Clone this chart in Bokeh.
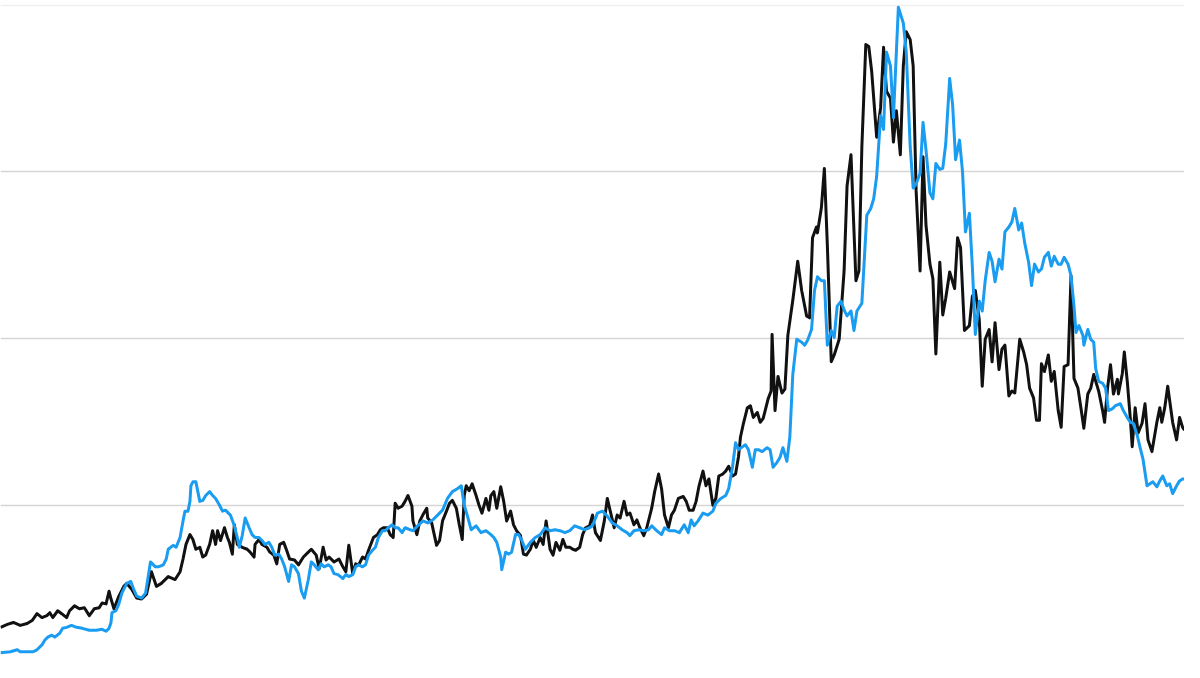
from bokeh.plotting import figure
from bokeh.models import Range1d, FixedTicker, Grid
from bokeh.embed import file_html
from bokeh.resources import INLINE

# (time index, value) readings for the black series
black_points = [
    (0, 36), (7, 39), (13, 41), (20, 38), (27, 40), (32, 43), (37, 50), (42, 46), (47, 48), (50, 51),
    (53, 46), (58, 53), (62, 50), (67, 46), (70, 53), (75, 58), (80, 55), (85, 56), (90, 48), (95, 55),
    (100, 56), (103, 61), (107, 60), (110, 73), (112, 65), (115, 55), (120, 68), (125, 78), (128, 81), (133, 75),
    (138, 66), (143, 65), (148, 70), (153, 93), (158, 78), (163, 81), (170, 88), (177, 85), (182, 93),
    (185, 106), (188, 121), (192, 131), (195, 126), (198, 116), (202, 118), (205, 108), (208, 110), (212, 121),
    (215, 135), (218, 121), (220, 135), (223, 125), (227, 138), (230, 128), (232, 123), (235, 111), (237, 141),
    (240, 121), (245, 118), (250, 116), (253, 113), (257, 108), (258, 121),
    (262, 126), (265, 121), (270, 118), (273, 113), (277, 110), (280, 101), (283, 121), (287, 123), (290, 115),
    (293, 106), (298, 105), (302, 100), (307, 108), (312, 113), (315, 116), (320, 110), (323, 96), (327, 118),
    (330, 105), (333, 108), (338, 103), (343, 106), (347, 98), (350, 93), (353, 120), (357, 91), (360, 101),
    (363, 100), (367, 108), (370, 106), (373, 115), (378, 128), (382, 131), (385, 136), (388, 138), (392, 138),
    (395, 131), (398, 128),
    (400, 163), (403, 158), (407, 160), (410, 165), (413, 171), (417, 160), (418, 145), (422, 131), (425, 145),
    (428, 151), (432, 158), (433, 148), (437, 143), (442, 120), (445, 125), (448, 145), (452, 155), (455, 163),
    (458, 166), (462, 158), (465, 141), (468, 126), (470, 171), (472, 181), (475, 176), (478, 183), (482, 171),
    (485, 161), (488, 153), (492, 168), (495, 156), (497, 171), (500, 175), (503, 158), (507, 180), (510, 165),
    (513, 145), (517, 155), (520, 141), (523, 135), (527, 130), (530, 111), (533, 110), (537, 116), (540, 125),
    (543, 118), (547, 128), (550, 121), (553, 145), (557, 116), (560, 110), (563, 123), (567, 115), (570, 126),
    (573, 118), (577, 118), (580, 116), (583, 115), (587, 118), (590, 131), (593, 138), (597, 140), (600, 151),
    (603, 133), (608, 125), (612, 145), (615, 168), (618, 155), (622, 138), (625, 151), (628, 148), (632, 165),
    (635, 151), (638, 153), (642, 141), (645, 146), (648, 138), (652, 130), (655, 138), (660, 158), (663, 175),
    (667, 193), (670, 178), (673, 151), (677, 138), (680, 151), (683, 156), (687, 168), (692, 170), (695, 165),
    (698, 156), (702, 156), (705, 165), (708, 181), (712, 196), (715, 181), (718, 188), (722, 161), (725, 168),
    (728, 191), (732, 193), (735, 196), (738, 201), (742, 191), (745, 193), (748, 211), (750, 231), (753, 245),
    (757, 261), (760, 263), (763, 251), (767, 256), (770, 246), (773, 250), (775, 258), (778, 270), (781, 278),
    (782, 336), (785, 258), (788, 293), (792, 276), (795, 280), (798, 335),
    (803, 371), (808, 411), (812, 381), (817, 355), (820, 353), (823, 435), (827, 446), (828, 440), (832, 466),
    (835, 506), (838, 428), (842, 308), (845, 315), (850, 331), (855, 401), (858, 488), (862, 520), (864, 468),
    (867, 391), (870, 401), (873, 528), (877, 633), (880, 631), (883, 605), (888, 538), (892, 568), (895, 630),
    (898, 585), (902, 578), (905, 533), (908, 565), (912, 520), (915, 611), (918, 646), (922, 638), (925, 611),
    (928, 483), (932, 401), (935, 518), (938, 448), (942, 408), (945, 393), (948, 316), (952, 410), (955, 356),
    (958, 373), (962, 400), (967, 383), (970, 435), (973, 425), (977, 340), (982, 345), (985, 375), (988, 381),
    (992, 351), (995, 283), (998, 331), (1002, 341), (1005, 308), (1008, 348), (1012, 300), (1015, 321),
    (1018, 325), (1022, 273), (1025, 278), (1028, 276), (1033, 331), (1037, 318), (1040, 305), (1043, 281),
    (1047, 271), (1050, 248), (1053, 248), (1055, 306), (1058, 298), (1062, 315), (1065, 288), (1068, 298),
    (1072, 258), (1075, 241), (1078, 303), (1082, 305), (1085, 396), (1088, 291), (1092, 281), (1095, 261),
    (1098, 240), (1102, 275), (1105, 281), (1108, 295), (1113, 278), (1117, 258), (1119, 246), (1122, 281),
    (1125, 305), (1128, 275), (1132, 290), (1133, 275), (1137, 296), (1139, 318), (1142, 288), (1145, 251),
    (1147, 221), (1150, 261), (1153, 235), (1157, 245), (1160, 265), (1163, 228), (1167, 216), (1172, 246),
    (1175, 261), (1177, 246), (1180, 261), (1183, 283), (1185, 268), (1188, 246), (1192, 228), (1195, 251),
    (1198, 241), (1200, 238),
]

# (time index, value) readings for the blue series
blue_points = [
    (0, 10), (10, 11), (17, 13), (20, 11), (27, 11), (33, 11), (37, 13), (42, 18), (45, 23), (48, 26),
    (52, 28), (55, 26), (60, 30), (63, 35), (67, 36), (72, 38), (77, 36), (83, 35), (90, 33), (97, 33),
    (103, 34), (107, 32), (110, 35), (112, 41), (113, 51), (117, 53), (120, 60), (123, 71), (128, 81), (132, 83),
    (135, 75), (138, 68), (143, 66), (147, 71), (150, 90), (152, 103), (157, 98), (160, 98), (165, 100), (168, 106),
    (170, 116), (175, 120), (178, 118), (182, 128), (185, 145), (187, 155), (190, 155), (192, 165), (193, 181),
    (195, 185), (198, 185), (202, 165), (205, 166), (208, 171), (212, 175), (215, 171), (218, 168), (222, 161),
    (225, 155), (228, 156), (233, 151), (237, 140), (240, 128),
    (242, 118), (245, 130), (248, 148), (252, 138), (255, 131), (258, 128), (262, 128), (265, 125), (268, 121),
    (272, 123), (275, 118), (278, 110), (282, 111), (285, 106), (288, 98), (292, 83), (295, 100), (298, 98),
    (302, 91), (305, 73), (308, 66), (312, 85), (315, 103), (318, 100), (322, 95), (325, 101), (328, 98),
    (332, 100), (335, 98), (338, 91), (342, 90), (347, 86), (350, 90), (353, 88), (357, 90), (360, 98),
    (363, 100), (367, 98), (370, 100), (373, 110), (377, 115), (380, 118), (383, 128), (387, 135), (390, 135),
    (393, 138), (397, 141), (400, 138), (403, 138), (407, 133), (410, 138), (415, 136), (418, 135), (423, 140),
    (428, 145), (433, 143), (438, 146), (443, 151), (448, 156), (453, 168), (458, 175), (463, 178), (467, 181),
    (470, 161), (473, 151), (477, 136), (482, 140), (487, 133), (492, 135), (497, 131), (500, 128), (503, 123),
    (507, 108), (508, 95), (512, 113), (515, 111), (518, 113), (522, 131), (525, 131), (528, 126), (532, 116),
    (537, 123), (542, 128), (547, 131), (552, 138), (557, 135), (562, 136), (567, 135), (572, 133), (577, 135),
    (582, 140), (587, 138), (592, 136), (597, 138), (600, 140), (605, 153), (610, 155), (615, 150), (620, 143),
    (625, 140), (630, 136), (635, 133), (638, 130), (642, 135), (647, 136), (652, 135), (657, 136), (660, 140),
    (665, 135), (670, 131), (673, 138), (678, 135), (683, 135), (688, 133), (693, 141), (697, 133), (700, 146),
    (703, 140), (707, 145), (712, 153), (717, 151), (722, 155), (725, 163), (730, 168), (735, 171), (738, 178),
    (742, 201), (745, 225), (748, 218), (752, 221), (755, 223), (758, 218), (762, 200), (765, 218), (768, 218),
    (772, 216), (777, 220), (780, 218), (783, 200), (787, 205), (790, 210), (793, 220), (797, 206), (800, 231),
    (803, 295), (807, 331), (812, 328), (815, 325), (818, 330), (822, 341), (825, 381), (828, 395), (832, 391),
    (835, 391), (838, 325), (842, 340), (845, 333), (848, 365), (852, 370), (855, 361), (858, 355),
    (862, 360), (865, 340), (868, 360), (873, 368), (878, 458), (882, 465), (885, 475), (888, 498), (892, 560),
    (895, 546), (898, 625), (902, 611), (905, 558), (910, 671), (915, 655), (918, 625), (922, 528), (925, 486),
    (928, 490), (932, 501), (935, 553), (938, 525), (942, 481), (945, 475), (948, 511), (952, 505), (955, 506),
    (958, 531), (962, 598), (965, 571), (968, 515), (972, 535), (975, 503), (978, 441), (982, 460), (985, 405),
    (988, 336), (992, 370), (995, 360), (998, 391), (1002, 420), (1005, 411), (1008, 390), (1012, 413),
    (1015, 403), (1018, 441), (1022, 446), (1025, 451), (1028, 465), (1032, 443), (1035, 450), (1038, 430),
    (1042, 410), (1045, 386), (1048, 408), (1052, 400), (1055, 403), (1058, 415), (1062, 420), (1065, 406),
    (1068, 416), (1072, 408), (1075, 408), (1078, 415), (1082, 408), (1085, 396), (1088, 365), (1090, 338),
    (1093, 345), (1097, 335), (1098, 325), (1102, 341), (1105, 331), (1108, 328), (1110, 301), (1113, 288),
    (1117, 286), (1120, 281), (1123, 258), (1127, 260), (1130, 263), (1135, 265), (1138, 258), (1142, 251),
    (1145, 246), (1148, 245), (1152, 233), (1155, 220), (1158, 208), (1162, 181), (1165, 183), (1168, 185),
    (1172, 180), (1175, 186), (1178, 191), (1182, 181), (1185, 183), (1188, 173), (1192, 181), (1195, 186),
    (1198, 188), (1200, 188),
]

black_t = [t for t, _ in black_points]
black_v = [v for _, v in black_points]
blue_t = [t for t, _ in blue_points]
blue_v = [v for _, v in blue_points]

# horizontal gridline levels (the top one sits at the chart edge and shows faintly)
grid_values = [160.5, 331.5, 502.5]
top_grid_values = [673]

p = figure(width=1184, height=662, output_backend="svg", toolbar_location=None,
           x_range=Range1d(0, 1200), y_range=Range1d(0, 678),
           min_border=0, min_border_left=0, min_border_right=0,
           min_border_top=0, min_border_bottom=0)
p.outline_line_color = None
p.background_fill_color = "white"
p.border_fill_color = "white"
p.xaxis.visible = False
p.yaxis.visible = False
p.xgrid.visible = False
p.yaxis.ticker = FixedTicker(ticks=grid_values)
p.ygrid.ticker = FixedTicker(ticks=grid_values)
p.ygrid.grid_line_color = "#d6d6d6"
p.ygrid.grid_line_width = 1.5

top_grid = Grid(dimension=1, ticker=FixedTicker(ticks=top_grid_values),
                grid_line_color="#efefef", grid_line_width=1.5)
p.add_layout(top_grid)

p.line(black_t, black_v, line_color="#111111", line_width=3, line_join="round")
p.line(blue_t, blue_v, line_color="#1a9cf0", line_width=3, line_join="round")

open("out.html", "w").write(file_html(p, INLINE))
